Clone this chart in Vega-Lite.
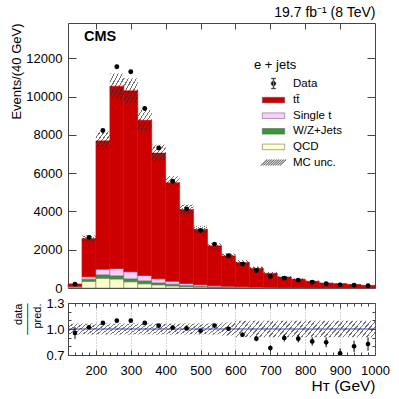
{
  "$schema": "https://vega.github.io/schema/vega-lite/v6.json",
  "padding": {"left": 9, "top": 5, "right": 5, "bottom": 0},
  "spacing": 0,
  "datasets": {
    "mc": [
      {"lo":120,"hi":160,"QCD":50,"W/Z+Jets":20,"Single t":20,"tt̄":120},
      {"lo":160,"hi":200,"QCD":350,"W/Z+Jets":110,"Single t":130,"tt̄":2000},
      {"lo":200,"hi":240,"QCD":510,"W/Z+Jets":180,"Single t":295,"tt̄":6705},
      {"lo":240,"hi":280,"QCD":470,"W/Z+Jets":170,"Single t":380,"tt̄":9530},
      {"lo":280,"hi":320,"QCD":325,"W/Z+Jets":155,"Single t":370,"tt̄":9460},
      {"lo":320,"hi":360,"QCD":220,"W/Z+Jets":155,"Single t":280,"tt̄":8110},
      {"lo":360,"hi":400,"QCD":165,"W/Z+Jets":105,"Single t":210,"tt̄":6570},
      {"lo":400,"hi":440,"QCD":110,"W/Z+Jets":90,"Single t":155,"tt̄":5145},
      {"lo":440,"hi":480,"QCD":70,"W/Z+Jets":60,"Single t":110,"tt̄":3860},
      {"lo":480,"hi":520,"QCD":50,"W/Z+Jets":40,"Single t":80,"tt̄":2900},
      {"lo":520,"hi":560,"QCD":30,"W/Z+Jets":30,"Single t":60,"tt̄":2087},
      {"lo":560,"hi":600,"QCD":20,"W/Z+Jets":25,"Single t":45,"tt̄":1590},
      {"lo":600,"hi":640,"QCD":15,"W/Z+Jets":18,"Single t":35,"tt̄":1270},
      {"lo":640,"hi":680,"QCD":10,"W/Z+Jets":14,"Single t":25,"tt̄":981},
      {"lo":680,"hi":720,"QCD":8,"W/Z+Jets":10,"Single t":20,"tt̄":732},
      {"lo":720,"hi":760,"QCD":5,"W/Z+Jets":8,"Single t":15,"tt̄":547},
      {"lo":760,"hi":800,"QCD":4,"W/Z+Jets":6,"Single t":12,"tt̄":440},
      {"lo":800,"hi":840,"QCD":3,"W/Z+Jets":5,"Single t":10,"tt̄":338},
      {"lo":840,"hi":880,"QCD":2,"W/Z+Jets":4,"Single t":8,"tt̄":246},
      {"lo":880,"hi":920,"QCD":2,"W/Z+Jets":3,"Single t":6,"tt̄":218},
      {"lo":920,"hi":960,"QCD":1,"W/Z+Jets":3,"Single t":5,"tt̄":179},
      {"lo":960,"hi":1000,"QCD":1,"W/Z+Jets":2,"Single t":4,"tt̄":132}
    ],
    "bins": [
      {"lo":120,"hi":160,"c":140,"d":200,"de":14,"r":0.954,"re":0.068,"up":223,"dn":197,"ru":1.063,"rd":0.937},
      {"lo":160,"hi":200,"c":180,"d":2645,"de":51,"r":1.02,"re":0.02,"up":2753,"dn":2427,"ru":1.063,"rd":0.937},
      {"lo":200,"hi":240,"c":220,"d":8230,"de":91,"r":1.07,"re":0.012,"up":8174,"dn":7206,"ru":1.063,"rd":0.937},
      {"lo":240,"hi":280,"c":260,"d":11560,"de":108,"r":1.096,"re":0.01,"up":11215,"dn":9885,"ru":1.063,"rd":0.937},
      {"lo":280,"hi":320,"c":300,"d":11300,"de":106,"r":1.096,"re":0.01,"up":10960,"dn":9660,"ru":1.063,"rd":0.937},
      {"lo":320,"hi":360,"c":340,"d":9380,"de":97,"r":1.07,"re":0.011,"up":9317,"dn":8213,"ru":1.063,"rd":0.937},
      {"lo":360,"hi":400,"c":380,"d":7320,"de":86,"r":1.038,"re":0.012,"up":7494,"dn":6606,"ru":1.063,"rd":0.937},
      {"lo":400,"hi":440,"c":420,"d":5580,"de":75,"r":1.015,"re":0.014,"up":5847,"dn":5153,"ru":1.063,"rd":0.937},
      {"lo":440,"hi":480,"c":460,"d":4130,"de":64,"r":1.007,"re":0.016,"up":4358,"dn":3842,"ru":1.063,"rd":0.937},
      {"lo":480,"hi":520,"c":500,"d":3010,"de":55,"r":0.98,"re":0.018,"up":3263,"dn":2877,"ru":1.063,"rd":0.937},
      {"lo":520,"hi":560,"c":540,"d":2295,"de":48,"r":1.04,"re":0.022,"up":2346,"dn":2068,"ru":1.063,"rd":0.937},
      {"lo":560,"hi":600,"c":580,"d":1685,"de":41,"r":1.003,"re":0.024,"up":1806,"dn":1554,"ru":1.075,"rd":0.925},
      {"lo":600,"hi":640,"c":620,"d":1250,"de":35,"r":0.934,"re":0.026,"up":1465,"dn":1211,"ru":1.095,"rd":0.905},
      {"lo":640,"hi":680,"c":660,"d":915,"de":30,"r":0.888,"re":0.029,"up":1128,"dn":932,"ru":1.095,"rd":0.905},
      {"lo":680,"hi":720,"c":700,"d":600,"de":24,"r":0.78,"re":0.032,"up":843,"dn":697,"ru":1.095,"rd":0.905},
      {"lo":720,"hi":760,"c":740,"d":515,"de":23,"r":0.896,"re":0.04,"up":630,"dn":520,"ru":1.095,"rd":0.905},
      {"lo":760,"hi":800,"c":780,"d":410,"de":20,"r":0.888,"re":0.044,"up":506,"dn":418,"ru":1.095,"rd":0.905},
      {"lo":800,"hi":840,"c":820,"d":305,"de":17,"r":0.857,"re":0.049,"up":390,"dn":322,"ru":1.095,"rd":0.905},
      {"lo":840,"hi":880,"c":860,"d":220,"de":15,"r":0.846,"re":0.057,"up":285,"dn":235,"ru":1.095,"rd":0.905},
      {"lo":880,"hi":920,"c":900,"d":165,"de":13,"r":0.72,"re":0.056,"up":251,"dn":207,"ru":1.095,"rd":0.905},
      {"lo":920,"hi":960,"c":940,"d":150,"de":12,"r":0.8,"re":0.065,"up":206,"dn":170,"ru":1.095,"rd":0.905},
      {"lo":960,"hi":1000,"c":980,"d":115,"de":11,"r":0.827,"re":0.077,"up":152,"dn":126,"ru":1.095,"rd":0.905}
    ]
  },
  "vconcat": [
    {
      "width": 307,
      "height": 265,
      "title": {"text": "19.7 fb⁻¹ (8 TeV)", "anchor": "end", "fontSize": 14, "fontWeight": "normal", "offset": 3, "color": "#000"},
      "resolve": {"axis": {"x": "independent", "y": "independent"}},
      "layer": [
        {
          "data": {"name": "mc"},
          "transform": [
            {"fold": ["QCD", "W/Z+Jets", "Single t", "tt̄"], "as": ["proc", "v"]},
            {"stack": "v", "groupby": ["lo"], "as": ["v0", "v1"]}
          ],
          "mark": {"type": "bar", "strokeWidth": 0.5},
          "encoding": {
            "x": {"field": "lo", "type": "quantitative", "scale": {"domain": [120, 1000], "nice": false, "zero": false}, "axis": null},
            "x2": {"field": "hi"},
            "y": {"field": "v1", "type": "quantitative", "scale": {"domain": [0, 13850], "nice": false},
              "axis": {"orient": "left", "values": [0, 2000, 4000, 6000, 8000, 10000, 12000], "format": "d", "ticks": false, "labelPadding": 6, "labelFontSize": 13, "title": "Events/(40 GeV)", "titleFontSize": 13, "titleAnchor": "end", "titleX": -45}},
            "y2": {"field": "v0"},
            "color": {"field": "proc", "type": "nominal",
              "scale": {"domain": ["Data", "tt̄", "Single t", "W/Z+Jets", "QCD", "MC unc."], "range": ["#000000", "#cc0000", "#ffccff", "#339933", "#ffffcc", "#666666"]},
              "legend": {"title": "e + jets", "orient": "none", "legendX": 186, "legendY": 36, "padding": 0,
                "titleFontSize": 13, "titleFontWeight": "normal", "titleColor": "#000", "titlePadding": 4,
                "labelFontSize": 11.5, "labelColor": "#000", "labelOffset": 12, "symbolSize": 196, "symbolOffset": 12, "rowPadding": 2.6,
                "encode": {"symbols": {"update": {"stroke": {"value": "#555"}, "strokeWidth": {"value": 0.5}, "opacity": {"value": 1}, "fillOpacity": {"value": 1}}}}}},
            "stroke": {"condition": {"test": "datum.proc === 'tt̄'", "value": "#cc0000"}, "value": "#666"}
          }
        },
        {
          "data": {"name": "bins"},
          "mark": {"type": "bar", "fill": {"gradient": "linear", "x1": 0, "y1": 0, "x2": 1, "y2": 1, "stops": [
            {"offset": 0, "color": "rgba(40,40,40,0.65)"}, {"offset": 0.043, "color": "rgba(40,40,40,0.65)"}, {"offset": 0.043, "color": "rgba(255,255,255,0)"}, {"offset": 0.143, "color": "rgba(255,255,255,0)"},
            {"offset": 0.143, "color": "rgba(40,40,40,0.65)"}, {"offset": 0.186, "color": "rgba(40,40,40,0.65)"}, {"offset": 0.186, "color": "rgba(255,255,255,0)"}, {"offset": 0.286, "color": "rgba(255,255,255,0)"},
            {"offset": 0.286, "color": "rgba(40,40,40,0.65)"}, {"offset": 0.329, "color": "rgba(40,40,40,0.65)"}, {"offset": 0.329, "color": "rgba(255,255,255,0)"}, {"offset": 0.429, "color": "rgba(255,255,255,0)"},
            {"offset": 0.429, "color": "rgba(40,40,40,0.65)"}, {"offset": 0.471, "color": "rgba(40,40,40,0.65)"}, {"offset": 0.471, "color": "rgba(255,255,255,0)"}, {"offset": 0.571, "color": "rgba(255,255,255,0)"},
            {"offset": 0.571, "color": "rgba(40,40,40,0.65)"}, {"offset": 0.614, "color": "rgba(40,40,40,0.65)"}, {"offset": 0.614, "color": "rgba(255,255,255,0)"}, {"offset": 0.714, "color": "rgba(255,255,255,0)"},
            {"offset": 0.714, "color": "rgba(40,40,40,0.65)"}, {"offset": 0.757, "color": "rgba(40,40,40,0.65)"}, {"offset": 0.757, "color": "rgba(255,255,255,0)"}, {"offset": 0.857, "color": "rgba(255,255,255,0)"},
            {"offset": 0.857, "color": "rgba(40,40,40,0.65)"}, {"offset": 0.9, "color": "rgba(40,40,40,0.65)"}, {"offset": 0.9, "color": "rgba(255,255,255,0)"}, {"offset": 1, "color": "rgba(255,255,255,0)"}
          ]}},
          "encoding": {
            "x": {"field": "lo", "type": "quantitative", "axis": null},
            "x2": {"field": "hi"},
            "y": {"field": "up", "type": "quantitative", "axis": null},
            "y2": {"field": "dn"}
          }
        },
        {
          "data": {"name": "bins"},
          "mark": {"type": "errorbar", "color": "#000", "thickness": 1},
          "encoding": {
            "x": {"field": "c", "type": "quantitative", "axis": {"orient": "bottom", "values": [200, 300, 400, 500, 600, 700, 800, 900], "labels": false, "tickSize": -6, "title": null}},
            "y": {"field": "d", "type": "quantitative", "axis": {"orient": "left", "values": [2000, 4000, 6000, 8000, 10000, 12000], "labels": false, "tickSize": -8, "title": null}},
            "yError": {"field": "de"}
          }
        },
        {
          "data": {"name": "bins"},
          "mark": {"type": "point", "filled": true, "size": 24, "color": "#000", "opacity": 1},
          "encoding": {
            "x": {"field": "c", "type": "quantitative", "axis": {"orient": "top", "values": [200, 300, 400, 500, 600, 700, 800, 900], "labels": false, "tickSize": -6, "title": null}},
            "y": {"field": "d", "type": "quantitative", "axis": {"orient": "right", "values": [2000, 4000, 6000, 8000, 10000, 12000], "labels": false, "tickSize": -8, "title": null}}
          }
        },
        {
          "data": {"name": "bins"},
          "mark": {"type": "point", "filled": true, "size": 196, "opacity": 0},
          "encoding": {
            "x": {"field": "c", "type": "quantitative", "axis": null},
            "y": {"field": "d", "type": "quantitative", "axis": null},
            "color": {"datum": "Data", "type": "nominal",
              "scale": {"domain": ["Data", "tt̄", "Single t", "W/Z+Jets", "QCD", "MC unc."], "range": ["#000000", "#cc0000", "#ffccff", "#339933", "#ffffcc", "#666666"]},
              "legend": {"title": "e + jets", "orient": "none", "legendX": 186, "legendY": 36, "padding": 0,
                "titleFontSize": 13, "titleFontWeight": "normal", "titleColor": "#000", "titlePadding": 4,
                "labelFontSize": 11.5, "labelColor": "#000", "labelOffset": 12, "symbolSize": 196, "symbolOffset": 12, "rowPadding": 2.6,
                "encode": {"symbols": {"update": {"stroke": {"value": "#555"}, "strokeWidth": {"value": 0.5}, "opacity": {"value": 1}, "fillOpacity": {"value": 1}}}}}},
            "shape": {"datum": "Data", "type": "nominal",
              "scale": {"domain": ["Data", "tt̄", "Single t", "W/Z+Jets", "QCD", "MC unc."], "range": [
                "M-0.34,0A0.34,0.34 0 1,0 0.34,0A0.34,0.34 0 1,0 -0.34,0ZM-0.05,-0.72H0.05V0.72H-0.05ZM-0.3,-0.77H0.3V-0.67H-0.3ZM-0.3,0.67H0.3V0.77H-0.3Z",
                "M-1.6,-0.4H1.6V0.4H-1.6Z",
                "M-1.6,-0.4H1.6V0.4H-1.6Z",
                "M-1.6,-0.4H1.6V0.4H-1.6Z",
                "M-1.6,-0.4H1.6V0.4H-1.6Z",
                "M-1.8,0.4L-1,-0.4L-0.9,-0.4L-1.7,0.4ZM-1.46,0.4L-0.66,-0.4L-0.56,-0.4L-1.36,0.4ZM-1.12,0.4L-0.32,-0.4L-0.22,-0.4L-1.02,0.4ZM-0.78,0.4L0.02,-0.4L0.12,-0.4L-0.68,0.4ZM-0.44,0.4L0.36,-0.4L0.46,-0.4L-0.34,0.4ZM-0.1,0.4L0.7,-0.4L0.8,-0.4L0,0.4ZM0.24,0.4L1.04,-0.4L1.14,-0.4L0.34,0.4ZM0.58,0.4L1.38,-0.4L1.48,-0.4L0.68,0.4ZM0.92,0.4L1.72,-0.4L1.82,-0.4L1.02,0.4Z"
              ]},
              "legend": {"title": "e + jets", "orient": "none", "legendX": 186, "legendY": 36, "padding": 0,
                "titleFontSize": 13, "titleFontWeight": "normal", "titleColor": "#000", "titlePadding": 4,
                "labelFontSize": 11.5, "labelColor": "#000", "labelOffset": 12, "symbolSize": 196, "symbolOffset": 12, "rowPadding": 2.6,
                "encode": {"symbols": {"update": {"stroke": {"value": "#555"}, "strokeWidth": {"value": 0.5}, "opacity": {"value": 1}, "fillOpacity": {"value": 1}}}}}}
          }
        },
        {
          "data": {"values": [{}]},
          "mark": {"type": "text", "text": "CMS", "fontWeight": "bold", "fontSize": 14.5, "align": "left", "baseline": "alphabetic", "color": "#000"},
          "encoding": {
            "x": {"datum": 166, "type": "quantitative", "axis": null},
            "y": {"datum": 12900, "type": "quantitative", "axis": null}
          }
        }
      ]
    },
    {
      "width": 307,
      "height": 52,
      "resolve": {"axis": {"x": "independent", "y": "independent"}},
      "layer": [
        {
          "data": {"name": "bins"},
          "mark": {"type": "bar", "clip": true, "fill": {"gradient": "linear", "x1": 0, "y1": 0, "x2": 1, "y2": 1, "stops": [
            {"offset": 0, "color": "rgba(40,40,40,0.65)"}, {"offset": 0.05, "color": "rgba(40,40,40,0.65)"}, {"offset": 0.05, "color": "rgba(255,255,255,0)"}, {"offset": 0.1667, "color": "rgba(255,255,255,0)"},
            {"offset": 0.1667, "color": "rgba(40,40,40,0.65)"}, {"offset": 0.2167, "color": "rgba(40,40,40,0.65)"}, {"offset": 0.2167, "color": "rgba(255,255,255,0)"}, {"offset": 0.3333, "color": "rgba(255,255,255,0)"},
            {"offset": 0.3333, "color": "rgba(40,40,40,0.65)"}, {"offset": 0.3833, "color": "rgba(40,40,40,0.65)"}, {"offset": 0.3833, "color": "rgba(255,255,255,0)"}, {"offset": 0.5, "color": "rgba(255,255,255,0)"},
            {"offset": 0.5, "color": "rgba(40,40,40,0.65)"}, {"offset": 0.55, "color": "rgba(40,40,40,0.65)"}, {"offset": 0.55, "color": "rgba(255,255,255,0)"}, {"offset": 0.6667, "color": "rgba(255,255,255,0)"},
            {"offset": 0.6667, "color": "rgba(40,40,40,0.65)"}, {"offset": 0.7167, "color": "rgba(40,40,40,0.65)"}, {"offset": 0.7167, "color": "rgba(255,255,255,0)"}, {"offset": 0.8333, "color": "rgba(255,255,255,0)"},
            {"offset": 0.8333, "color": "rgba(40,40,40,0.65)"}, {"offset": 0.8833, "color": "rgba(40,40,40,0.65)"}, {"offset": 0.8833, "color": "rgba(255,255,255,0)"}, {"offset": 1, "color": "rgba(255,255,255,0)"}
          ]}},
          "encoding": {
            "x": {"field": "lo", "type": "quantitative", "scale": {"domain": [120, 1000], "nice": false, "zero": false},
              "axis": {"orient": "bottom", "values": [200, 300, 400, 500, 600, 700, 800, 900, 1000], "format": "d", "ticks": false, "labelPadding": 9, "labelFlush": false, "labelFontSize": 13,
                "grid": true, "gridDash": [1, 2], "gridColor": "#888", "gridWidth": 0.7,
                "title": "Hᴛ (GeV)", "titleFontSize": 15.5, "titleAnchor": "end", "titlePadding": 1}},
            "x2": {"field": "hi"},
            "y": {"field": "ru", "type": "quantitative", "scale": {"domain": [0.7, 1.3], "nice": false, "zero": false},
              "axis": {"orient": "left", "values": [0.7, 1.0, 1.3], "format": ".1f", "ticks": false, "labelPadding": 4, "labelFontSize": 13,
                "title": ["data", "────", "pred."], "titleFontSize": 11, "titleLineHeight": 9.5, "titleAnchor": "end", "titleX": -44.7}},
            "y2": {"field": "rd"}
          }
        },
        {
          "data": {"values": [{}]},
          "mark": {"type": "rule", "color": "#3c3cc8", "strokeWidth": 1},
          "encoding": {
            "y": {"datum": 1, "type": "quantitative", "axis": null}
          }
        },
        {
          "data": {"name": "bins"},
          "mark": {"type": "errorbar", "color": "#000", "thickness": 1, "clip": true},
          "encoding": {
            "x": {"field": "c", "type": "quantitative", "axis": {"orient": "bottom", "values": [140,160,180,200,220,240,260,280,300,320,340,360,380,400,420,440,460,480,500,520,540,560,580,600,620,640,660,680,700,720,740,760,780,800,820,840,860,880,900,920,940,960,980], "labels": false, "title": null,
              "tickSize": {"condition": {"test": "datum.value % 100 === 0", "value": -5}, "value": -3}}},
            "y": {"field": "r", "type": "quantitative", "axis": {"orient": "left", "values": [0.7, 0.8, 0.9, 1.0, 1.1, 1.2, 1.3], "labels": false, "title": null,
              "tickSize": {"condition": {"test": "datum.value < 0.75 || datum.value > 1.25 || (datum.value > 0.95 && datum.value < 1.05)", "value": -6}, "value": -3}}},
            "yError": {"field": "re"}
          }
        },
        {
          "data": {"name": "bins"},
          "mark": {"type": "point", "filled": true, "size": 22, "color": "#000", "opacity": 1, "clip": true},
          "encoding": {
            "x": {"field": "c", "type": "quantitative", "axis": {"orient": "top", "values": [140,160,180,200,220,240,260,280,300,320,340,360,380,400,420,440,460,480,500,520,540,560,580,600,620,640,660,680,700,720,740,760,780,800,820,840,860,880,900,920,940,960,980], "labels": false, "title": null,
              "tickSize": {"condition": {"test": "datum.value % 100 === 0", "value": -5}, "value": -3}}},
            "y": {"field": "r", "type": "quantitative", "axis": {"orient": "right", "values": [0.7, 0.8, 0.9, 1.0, 1.1, 1.2, 1.3], "labels": false, "title": null,
              "tickSize": {"condition": {"test": "datum.value < 0.75 || datum.value > 1.25 || (datum.value > 0.95 && datum.value < 1.05)", "value": -6}, "value": -3}}}
          }
        }
      ]
    }
  ],
  "config": {
    "font": "Liberation Sans",
    "view": {"stroke": "#444", "strokeWidth": 1},
    "axis": {"domain": false, "grid": false, "tickColor": "#444", "labelColor": "#000", "titleColor": "#000", "titleFontWeight": "normal"}
  }
}
